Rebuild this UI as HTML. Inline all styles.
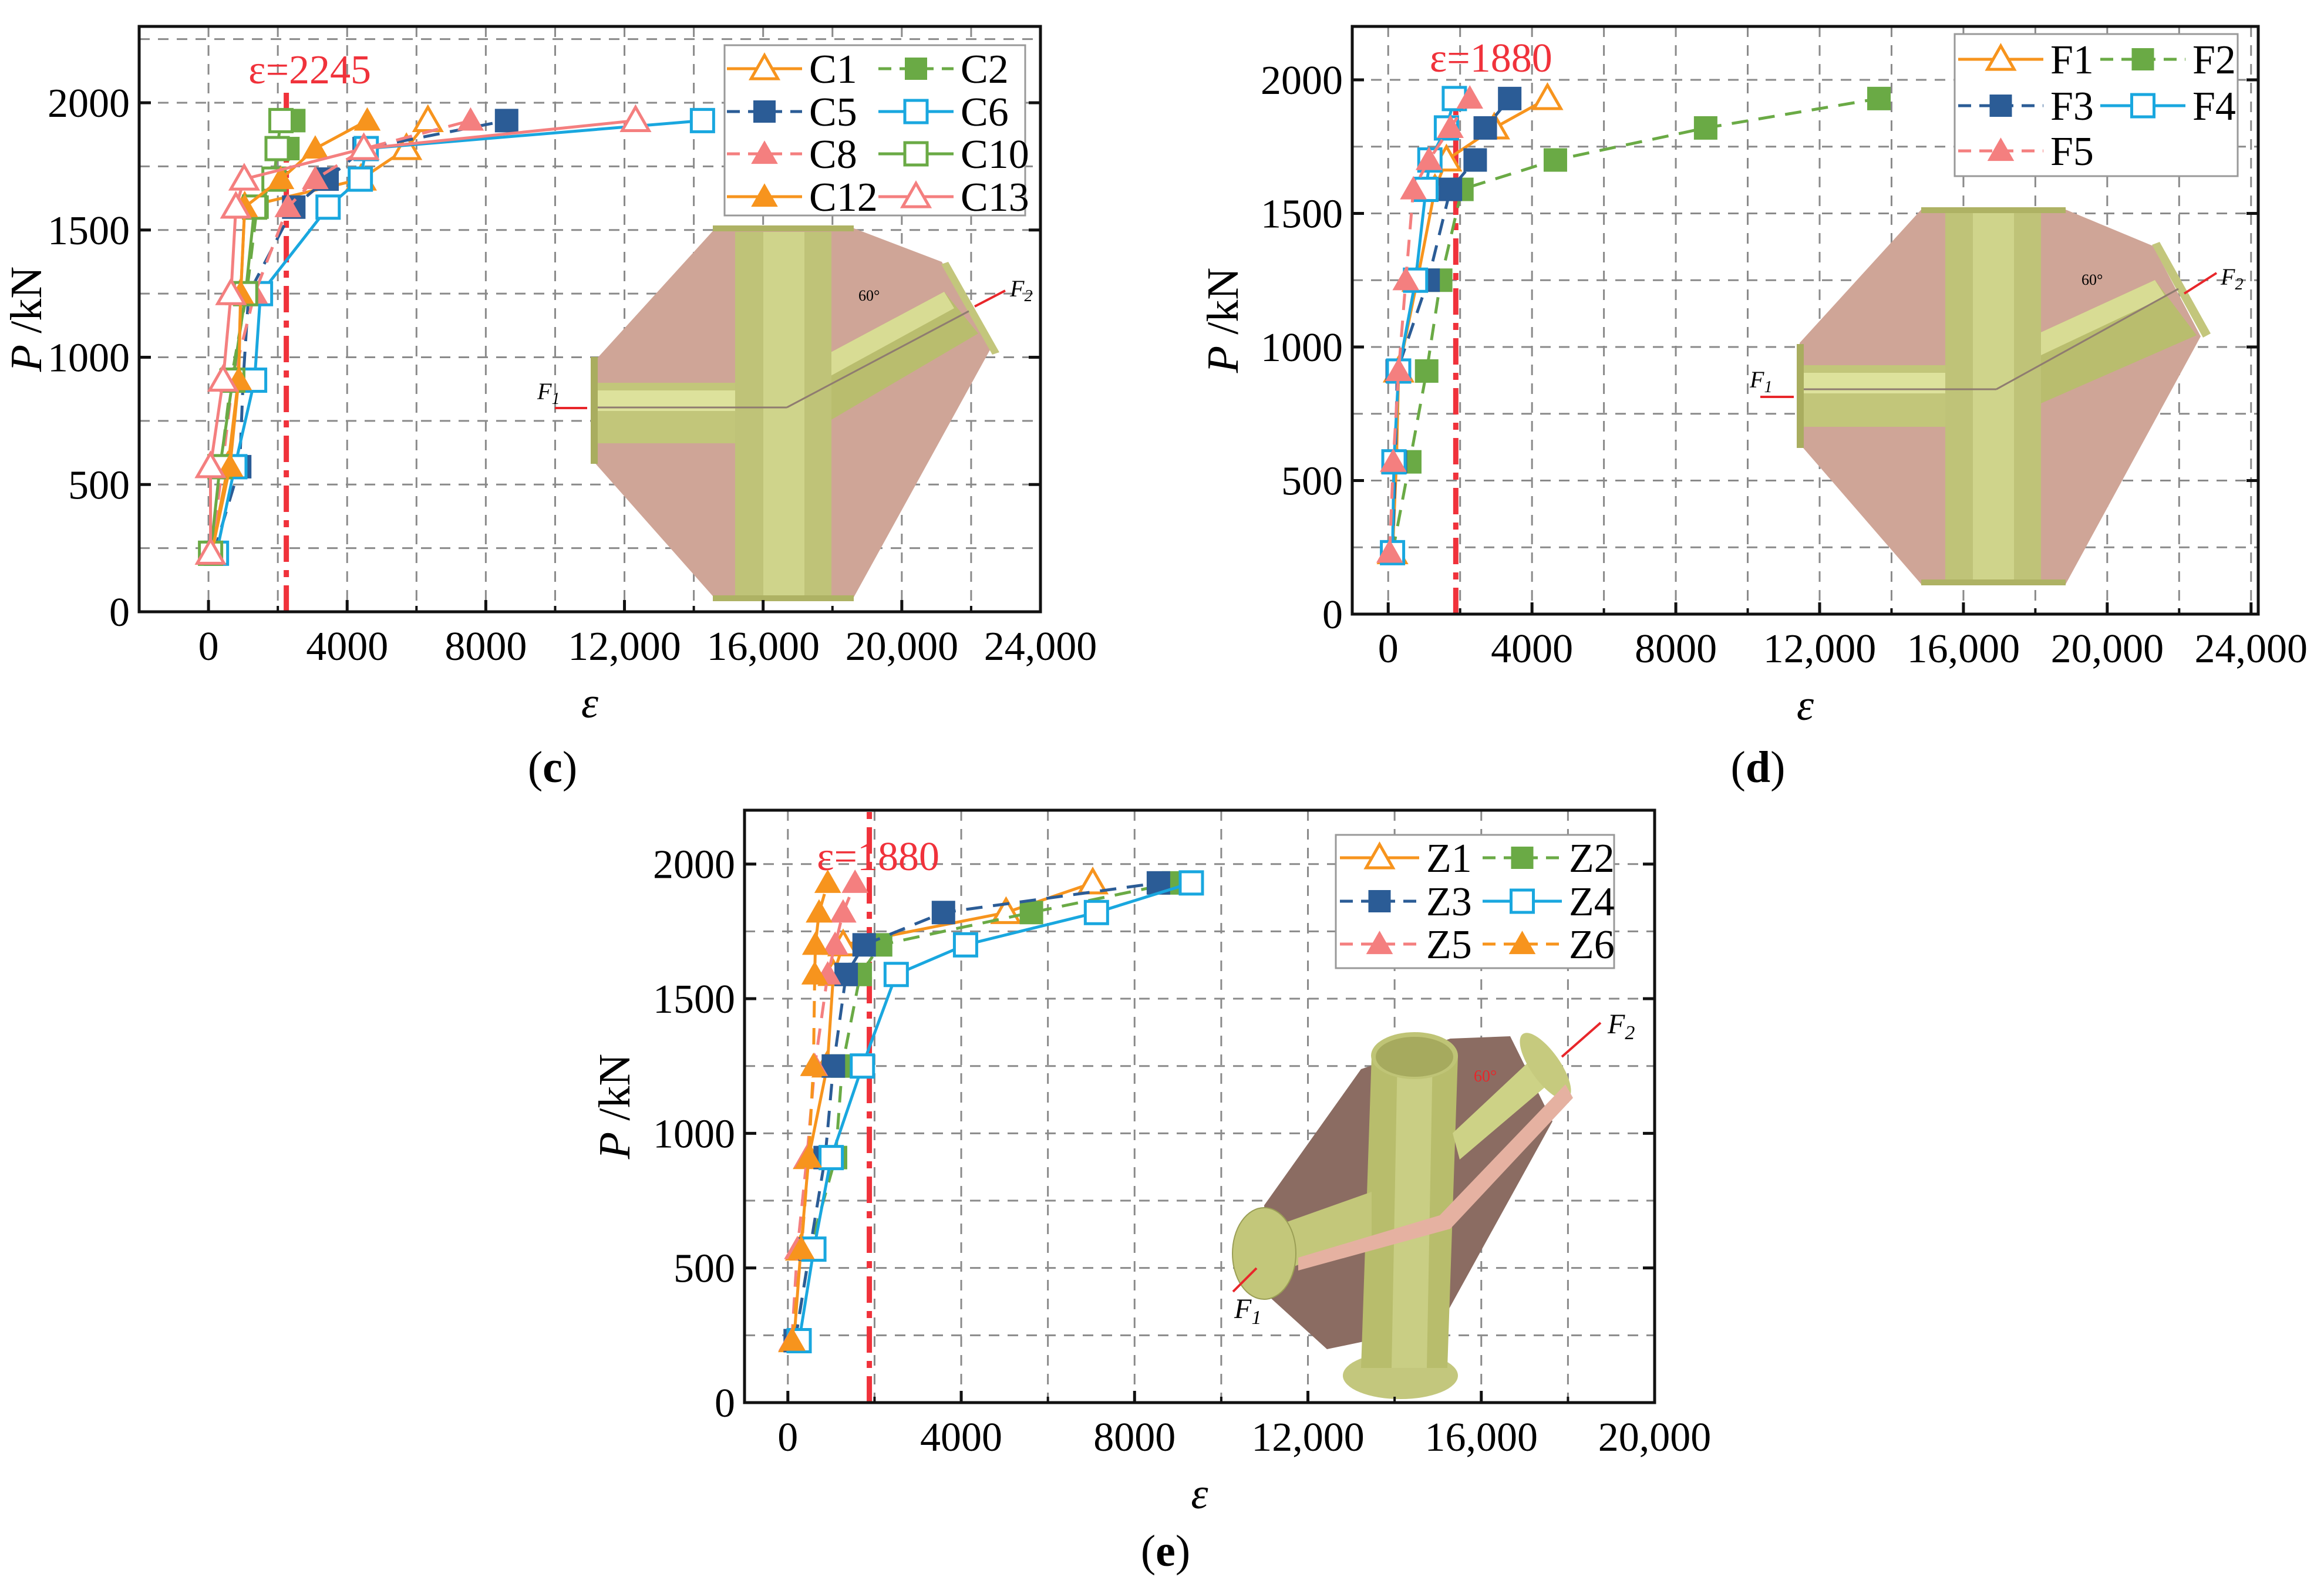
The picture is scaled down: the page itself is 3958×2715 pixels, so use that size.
<!DOCTYPE html>
<html><head><meta charset="utf-8">
<style>
html,body{margin:0;padding:0;background:#fff;}
svg{display:block;}
svg text{font-family:"Liberation Serif","DejaVu Serif","Times New Roman",serif;}
</style></head>
<body>
<svg id="fig" xmlns="http://www.w3.org/2000/svg" width="3958" height="2715" viewBox="0 0 3958 2715">
<rect width="3958" height="2715" fill="#fff"/>
<g id="inset-c">
  <polygon points="1219,388 1452,388 1604,446 1686,596 1452,1021 1219,1021 1010,785 1010,618" fill="#cfa597"/>
  <polygon points="1415,600 1608,497 1666,568 1414,716" fill="#b9bd6e"/>
  <polygon points="1415,600 1608,497 1625,525 1415,640" fill="#d8dc94"/>
  <polygon points="1603,450 1615,446 1702,600 1690,604" fill="#c3c67c"/>
  <rect x="1010" y="652" width="253" height="103" fill="#c2c67a"/>
  <rect x="1010" y="665" width="253" height="35" fill="#dde29c"/>
  <rect x="1006" y="608" width="12" height="182" fill="#a9ad5f"/>
  <rect x="1252" y="395" width="164" height="620" fill="#bfc378"/>
  <rect x="1300" y="395" width="70" height="620" fill="#cfd48b"/>
  <rect x="1214" y="384" width="240" height="10" fill="#aeb264"/>
  <rect x="1214" y="1014" width="240" height="10" fill="#aeb264"/>
  <line x1="1018" y1="694" x2="1340" y2="694" stroke="#8f7c70" stroke-width="3"/>
  <line x1="1340" y1="694" x2="1650" y2="530" stroke="#8f7c70" stroke-width="3"/>
  <text x="1462" y="512" font-size="26">60°</text>
  <text x="1720" y="505" font-size="40" font-style="italic">F<tspan font-size="28" dy="8">2</tspan></text>
  <text x="915" y="680" font-size="40" font-style="italic">F<tspan font-size="28" dy="8">1</tspan></text>
  <line x1="945" y1="695" x2="1000" y2="695" stroke="#e8262a" stroke-width="4"/>
  <line x1="1660" y1="522" x2="1712" y2="495" stroke="#e8262a" stroke-width="4"/>
</g>
<g id="inset-d">
  <polygon points="3272,357 3518,357 3667,419 3748,573 3518,995 3272,995 3065,756 3065,584" fill="#cfa597"/>
  <polygon points="3476,566 3670,477 3741,571 3476,687" fill="#b9bd6e"/>
  <polygon points="3476,566 3670,477 3688,505 3476,605" fill="#d8dc94"/>
  <polygon points="3665,417 3678,412 3765,568 3752,575" fill="#c3c67c"/>
  <rect x="3065" y="622" width="262" height="105" fill="#c2c67a"/>
  <rect x="3065" y="635" width="262" height="35" fill="#dde29c"/>
  <rect x="3060" y="586" width="12" height="177" fill="#a9ad5f"/>
  <rect x="3313" y="362" width="163" height="628" fill="#bfc378"/>
  <rect x="3360" y="362" width="70" height="628" fill="#cfd48b"/>
  <rect x="3272" y="353" width="246" height="10" fill="#aeb264"/>
  <rect x="3272" y="987" width="246" height="10" fill="#aeb264"/>
  <line x1="3072" y1="663" x2="3400" y2="663" stroke="#8f7c70" stroke-width="3"/>
  <line x1="3400" y1="663" x2="3710" y2="492" stroke="#8f7c70" stroke-width="3"/>
  <text x="3545" y="485" font-size="26">60°</text>
  <text x="3782" y="485" font-size="40" font-style="italic">F<tspan font-size="28" dy="8">2</tspan></text>
  <text x="2980" y="660" font-size="40" font-style="italic">F<tspan font-size="28" dy="8">1</tspan></text>
  <line x1="2998" y1="676" x2="3055" y2="676" stroke="#e8262a" stroke-width="4"/>
  <line x1="3720" y1="500" x2="3775" y2="465" stroke="#e8262a" stroke-width="4"/>
</g>
<g id="inset-e">
  <polygon points="2318,1821 2470,1769 2572,1765 2644,1910 2452,2258 2260,2298 2162,2209 2153,2053" fill="#8b6c62"/>
  <ellipse cx="2385" cy="2343" rx="98" ry="40" fill="#c3c77d"/>
  <polygon points="2336,1798 2483,1798 2465,2330 2318,2330" fill="#b8bd6c"/>
  <polygon points="2380,1798 2440,1798 2430,2330 2370,2330" fill="#c9ce84"/>
  <ellipse cx="2409" cy="1798" rx="74" ry="40" fill="#bfc476"/>
  <ellipse cx="2409" cy="1800" rx="66" ry="34" fill="#a6aa5e"/>
  <polygon points="2474,1930 2618,1795 2645,1840 2486,1975" fill="#cdd286"/>
  <ellipse cx="2632" cy="1816" rx="25" ry="67" transform="rotate(-35 2632 1816)" fill="#c6ca7e"/>
  <polygon points="2153,2095 2336,2030 2336,2110 2153,2175" fill="#c3c77a"/>
  <polygon points="2211,2164 2211,2142 2452,2070 2666,1847 2679,1870 2470,2093" fill="#e5b1a1"/>
  <ellipse cx="2153" cy="2135" rx="54" ry="78" fill="#c3c77a" stroke="#9a9e55" stroke-width="2"/>
  <text x="2102" y="2245" font-size="48" font-style="italic">F<tspan font-size="34" dy="10">1</tspan></text>
  <text x="2738" y="1760" font-size="48" font-style="italic">F<tspan font-size="34" dy="10">2</tspan></text>
  <line x1="2100" y1="2200" x2="2140" y2="2160" stroke="#e8262a" stroke-width="4"/>
  <line x1="2726" y1="1742" x2="2660" y2="1800" stroke="#e8262a" stroke-width="4"/>
  <text x="2510" y="1842" font-size="28" fill="#e8262a">60°</text>
</g>
<g id="charts"></g>
<text x="941" y="1332" font-size="76" text-anchor="middle">(<tspan font-weight="bold">c</tspan>)</text>
<text x="2994" y="1332" font-size="76" text-anchor="middle">(<tspan font-weight="bold">d</tspan>)</text>
<text x="1985" y="2667" font-size="76" text-anchor="middle">(<tspan font-weight="bold">e</tspan>)</text>
</svg>
<script>
const NS="http://www.w3.org/2000/svg";
const loads=[230,570,910,1250,1590,1700,1820,1930];
// chart c series
const cNames=["C1","C2","C5","C6","C8","C10","C12","C13"];
const C1=[80,560,860,930,1045,4400,5710,6330];
const C2=[90,350,650,1100,1400,1900,2290,2460];
const C5=[150,900,1000,1160,2460,3420,4490,8600];
const C6=[230,760,1330,1500,3450,4380,4550,14250];
const C8=[80,400,700,1330,2290,3080,4500,7560];
const C10=[60,330,700,1070,1330,1890,1980,2090];
const C12=[90,620,870,930,1045,2090,3080,4580];
const C13=[60,57,420,650,790,1030,4480,12320];
// chart d series
const dNames=["F1","F2","F3","F4","F5"];
const F1=[120,230,290,810,1300,1620,2950,4430];
const F2=[120,600,1070,1460,2050,4650,8830,13650];
const F3=[120,200,250,1110,1730,2420,2700,3380];
const F4=[120,160,290,760,1050,1160,1620,1840];
const F5=[40,140,290,490,700,1135,1730,2270];
// chart e series
const eNames=["Z1","Z2","Z3","Z4","Z5","Z6"];
const Z1=[140,300,480,910,1050,1276,5035,7035];
const Z2=[170,510,1100,1255,1670,2140,5620,8900];
const Z3=[170,510,860,1050,1345,1760,3590,8550];
const Z4=[260,600,1000,1720,2500,4100,7120,9310];
const Z5=[90,220,440,620,920,1090,1275,1550];
const Z6=[100,310,480,590,620,635,720,920];
const cXTicks=["0","4000","8000","12,000","16,000","20,000","24,000"];
const dXTicks=["0","4000","8000","12,000","16,000","20,000","24,000"];
const eXTicks=["0","4000","8000","12,000","16,000","20,000"];
const yTicks=["0","500","1000","1500","2000"];
const cLimit=2245, dLimit=1880, eLimit=1880;

const ORG="#f7941d",GRN="#6aaa45",BLU="#2b5c96",LBL="#19a7df",PNK="#f47f7f";
const styles={
 C1:[ORG,0,"tri",0],C2:[GRN,1,"sq",1],C5:[BLU,1,"sq",1],C6:[LBL,0,"sq",0],
 C8:[PNK,1,"tri",1],C10:[GRN,0,"sq",0],C12:[ORG,0,"tri",1],C13:[PNK,0,"tri",0],
 F1:[ORG,0,"tri",0],F2:[GRN,1,"sq",1],F3:[BLU,1,"sq",1],F4:[LBL,0,"sq",0],F5:[PNK,1,"tri",1],
 Z1:[ORG,0,"tri",0],Z2:[GRN,1,"sq",1],Z3:[BLU,1,"sq",1],Z4:[LBL,0,"sq",0],Z5:[PNK,1,"tri",1],Z6:[ORG,1,"tri",1]};

const root=document.getElementById("charts");
function el(tag,attrs,parent){const e=document.createElementNS(NS,tag);for(const k in attrs)e.setAttribute(k,attrs[k]);(parent||root).appendChild(e);return e;}
function marker(g,type,filled,color,x,y,s){
  let m;
  if(type==="sq"){m=el("rect",{x:x-s/2,y:y-s/2,width:s,height:s,fill:filled?color:"#fff",stroke:color,"stroke-width":filled?0:5},g);}
  else{m=el("polygon",{points:`${x},${y-s*0.6} ${x+s*0.6},${y+s*0.45} ${x-s*0.6},${y+s*0.45}`,fill:filled?color:"#fff",stroke:color,"stroke-width":filled?0:5},g);}
  return m;
}
function chart(cfg){
  const g=el("g",{});
  
  
  const sx=v=>cfg.L+(v-cfg.xmin)/(cfg.xmax-cfg.xmin)*(cfg.R-cfg.L);
  const sy=v=>cfg.B-(v-cfg.ymin)/(cfg.ymax-cfg.ymin)*(cfg.B-cfg.T);
  const grid=el("g",{stroke:"#8a8a8a","stroke-width":3,"stroke-dasharray":"18,14"},g);
  
  
  for(let v=0;v<cfg.xmax;v+=2000){el("line",{x1:sx(v),x2:sx(v),y1:cfg.T,y2:cfg.B},grid);}
  for(let v=250;v<cfg.ymax;v+=250){el("line",{x1:cfg.L,x2:cfg.R,y1:sy(v),y2:sy(v)},grid);}
  const lim=el("line",{x1:sx(cfg.limit),x2:sx(cfg.limit),y1:cfg.B,y2:cfg.limTop,stroke:"#f0323b","stroke-width":9,"stroke-dasharray":"45,14,12,14"},g);
  
  
  const lt=el("text",{x:sx(cfg.limit)+cfg.limDx,y:cfg.limLabelY,"font-size":70,fill:"#f0323b","text-anchor":"middle"},g);
  lt.textContent="\u03B5="+cfg.limit;
  
  
  cfg.names.forEach((n,i)=>{
    const vals=cfg.data[i];const st=styles[n];
    const sg=el("g",{},g);
    
    
    const pts=vals.map((v,j)=>sx(v)+","+sy(loads[j])).join(" ");
    el("polyline",{points:pts,fill:"none",stroke:st[0],"stroke-width":5,"stroke-dasharray":st[1]?"28,18":"none"},sg);
    vals.forEach((v,j)=>{const m=marker(sg,st[2],st[3],st[0],sx(v),sy(loads[j]),st[3]&&st[2]==="sq"?40:38);
      
      });
  });
  const box=el("rect",{x:cfg.L,y:cfg.T,width:cfg.R-cfg.L,height:cfg.B-cfg.T,fill:"none",stroke:"#111","stroke-width":5},g);
  
  
  cfg.xticks.forEach((t,i)=>{const v=i*4000;const x=sx(v);
    el("line",{x1:x,x2:x,y1:cfg.B,y2:cfg.B-20,stroke:"#111","stroke-width":5},g);
    if(v+2000<cfg.xmax) el("line",{x1:sx(v+2000),x2:sx(v+2000),y1:cfg.B,y2:cfg.B-10,stroke:"#111","stroke-width":4},g);
    const tx=el("text",{x:x,y:cfg.B+82,"font-size":70,"text-anchor":"middle"},g);tx.textContent=t;
    
    });
  yTicks.forEach((t,i)=>{const v=i*500;const y=sy(v);
    el("line",{x1:cfg.L,x2:cfg.L+20,y1:y,y2:y,stroke:"#111","stroke-width":5},g);
    el("line",{x1:cfg.R,x2:cfg.R-20,y1:y,y2:y,stroke:"#111","stroke-width":5},g);
    const ty=el("text",{x:cfg.L-16,y:y+24,"font-size":70,"text-anchor":"end"},g);ty.textContent=t;
    
    });
  const xt=el("text",{x:(cfg.L+cfg.R)/2,y:cfg.B+180,"font-size":74,"font-style":"italic","text-anchor":"middle"},g);xt.textContent="\u03B5";
  
  
  const yc=(cfg.T+cfg.B)/2;
  const yt=el("text",{x:cfg.ytx,y:yc,"font-size":76,"text-anchor":"middle",transform:`rotate(-90 ${cfg.ytx} ${yc})`},g);
  yt.innerHTML='<tspan font-style="italic">P</tspan> /kN';
  
  
  const lg=el("g",{},g);
  
  
  const Lb=cfg.leg;
  el("rect",{x:Lb.x,y:Lb.y,width:Lb.w,height:Lb.h,fill:"#fff",stroke:"#999","stroke-width":3},lg);
  cfg.names.forEach((n,i)=>{const st=styles[n];const col=i%2,row=Math.floor(i/2);
    const y=Lb.rows[row];const x0=Lb.cols[col];
    const e=el("g",{},lg);
    
    
    el("line",{x1:x0,x2:x0+Lb.lw,y1:y,y2:y,stroke:st[0],"stroke-width":5,"stroke-dasharray":st[1]?"22,14":"none"},e);
    marker(e,st[2],st[3],st[0],x0+Lb.lw/2,y,38);
    const t=el("text",{x:x0+Lb.lw+12,y:y+24,"font-size":70},e);t.textContent=n;});
  return g;
}
const gC=chart({id:"chart-c",L:237,R:1772,T:45,B:1042,xmin:-2000,xmax:24000,ymin:0,ymax:2300,limit:cLimit,limDx:40,limLabelY:142,limTop:158,
  names:cNames,data:[C1,C2,C5,C6,C8,C10,C12,C13],xticks:cXTicks,ytx:70,
  leg:{x:1234,y:77,w:512,h:290,rows:[117,190,262,335],cols:[1238,1496],lw:128}});
const gD=chart({id:"chart-d",L:2303,R:3846,T:45,B:1046,xmin:-1000,xmax:24200,ymin:0,ymax:2200,limit:dLimit,limDx:60,limLabelY:122,limTop:150,
  names:dNames,data:[F1,F2,F3,F4,F5],xticks:dXTicks,ytx:2108,
  leg:{x:3329,y:58,w:482,h:242,rows:[101,180,257],cols:[3335,3577],lw:145}});
const gE=chart({id:"chart-e",L:1268,R:2818,T:1380,B:2389,xmin:-1000,xmax:20000,ymin:0,ymax:2200,limit:eLimit,limDx:15,limLabelY:1482,limTop:1380,
  names:eNames,data:[Z1,Z2,Z3,Z4,Z5,Z6],xticks:eXTicks,ytx:1072,
  leg:{x:2275,y:1422,w:474,h:227,rows:[1461,1535,1608],cols:[2282,2525],lw:135}});
[[gC,"inset-c"],[gD,"inset-d"],[gE,"inset-e"]].forEach(([gc,id])=>{
  const ins=document.getElementById(id);
  gc.insertBefore(ins,gc.children[1]);
});
</script>
</body></html>
